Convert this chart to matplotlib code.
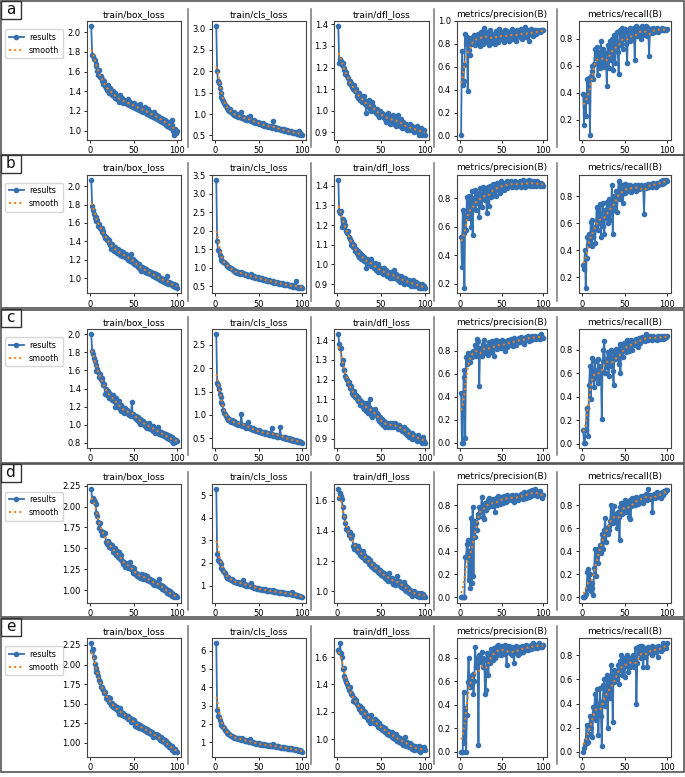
import numpy as np
import matplotlib
matplotlib.use('Agg')
import matplotlib.pyplot as plt
from matplotlib.patches import Rectangle
from matplotlib.lines import Line2D

epochs = np.arange(1, 101)
titles = ["train/box_loss", "train/cls_loss", "train/dfl_loss",
          "metrics/precision(B)", "metrics/recall(B)"]
row_labels = ["a", "b", "c", "d", "e"]

# ---------------- row a ----------------
a_box = [2.06,1.77,1.76,1.73,1.72,1.68,1.66,1.61,1.57,1.62,
         1.55,1.56,1.51,1.53,1.47,1.50,1.45,1.43,1.41,1.46,
         1.40,1.38,1.43,1.41,1.36,1.40,1.35,1.38,1.33,1.36,
         1.32,1.34,1.29,1.36,1.31,1.30,1.33,1.28,1.31,1.29,
         1.30,1.27,1.32,1.28,1.26,1.29,1.25,1.27,1.24,1.28,
         1.25,1.23,1.26,1.22,1.24,1.21,1.27,1.22,1.20,1.23,
         1.19,1.21,1.24,1.18,1.20,1.17,1.22,1.16,1.19,1.15,
         1.18,1.14,1.17,1.19,1.13,1.16,1.12,1.15,1.11,1.14,
         1.10,1.13,1.09,1.12,1.08,1.11,1.06,1.10,1.05,1.08,
         1.04,1.09,1.03,1.06,1.11,1.00,0.96,1.02,0.98,1.00]
a_cls = [3.05,2.00,1.78,1.72,1.62,1.50,1.40,1.36,1.30,1.26,
         1.22,1.18,1.15,1.16,1.10,1.08,1.12,1.05,1.02,1.00,
         0.98,1.04,0.97,0.95,0.99,0.93,0.96,0.92,0.94,1.05,
         0.90,0.92,0.88,0.91,0.87,0.89,0.86,0.93,0.85,0.95,
         0.84,0.86,0.83,0.81,0.85,0.80,0.82,0.79,0.81,0.78,
         0.77,0.80,0.76,0.74,0.78,0.73,0.75,0.72,0.74,0.71,
         0.70,0.73,0.69,0.71,0.68,0.70,0.84,0.67,0.69,0.66,
         0.68,0.65,0.67,0.64,0.66,0.63,0.65,0.62,0.64,0.61,
         0.63,0.60,0.62,0.59,0.61,0.58,0.60,0.57,0.59,0.56,
         0.58,0.55,0.57,0.54,0.56,0.53,0.61,0.52,0.54,0.52]
a_dfl = [1.39,1.22,1.24,1.23,1.21,1.22,1.19,1.20,1.17,1.18,
         1.16,1.15,1.13,1.14,1.12,1.13,1.11,1.10,1.12,1.09,
         1.10,1.07,1.08,1.06,1.08,1.05,1.07,1.04,1.06,1.05,
         1.07,1.03,0.99,1.04,1.02,1.05,1.01,1.03,1.00,1.04,
         1.02,1.00,1.01,0.99,1.01,0.98,1.00,0.97,1.00,0.98,
         0.99,0.97,0.98,0.96,0.98,0.95,0.97,0.99,0.96,0.94,
         0.97,0.95,0.96,0.98,0.94,0.97,0.93,0.96,0.98,0.94,
         0.95,0.93,0.96,0.92,0.95,0.93,0.94,0.92,0.94,0.91,
         0.93,0.91,0.94,0.92,0.93,0.91,0.92,0.90,0.92,0.91,
         0.93,0.90,0.92,0.89,0.91,0.92,0.89,0.90,0.91,0.89]
a_prec = [0.01,0.74,0.44,0.48,0.62,0.89,0.80,0.86,0.39,0.75,
          0.82,0.70,0.85,0.80,0.86,0.82,0.88,0.79,0.84,0.87,
          0.81,0.89,0.83,0.78,0.90,0.84,0.91,0.80,0.94,0.86,
          0.82,0.90,0.84,0.88,0.79,0.92,0.85,0.81,0.89,0.83,
          0.87,0.80,0.91,0.85,0.88,0.82,0.93,0.86,0.84,0.90,
          0.85,0.88,0.82,0.92,0.86,0.84,0.91,0.87,0.83,0.89,
          0.86,0.93,0.84,0.88,0.91,0.85,0.89,0.83,0.92,0.87,
          0.90,0.86,0.93,0.88,0.84,0.91,0.87,0.95,0.89,0.86,
          0.92,0.88,0.83,0.90,0.93,0.89,0.91,0.87,0.92,0.90,
          0.91,0.89,0.92,0.90,0.91,0.92,0.90,0.91,0.92,0.92]
a_rec = [0.39,0.16,0.38,0.23,0.36,0.50,0.34,0.51,0.09,0.52,
         0.56,0.60,0.50,0.61,0.72,0.66,0.74,0.53,0.70,0.62,
         0.58,0.78,0.65,0.60,0.72,0.59,0.69,0.63,0.45,0.75,
         0.58,0.70,0.78,0.64,0.80,0.57,0.76,0.83,0.62,0.78,
         0.85,0.70,0.54,0.86,0.75,0.82,0.88,0.72,0.84,0.80,
         0.87,0.76,0.62,0.85,0.80,0.88,0.78,0.84,0.86,0.79,
         0.88,0.64,0.85,0.89,0.82,0.87,0.84,0.88,0.80,0.86,
         0.89,0.83,0.87,0.85,0.89,0.82,0.86,0.88,0.67,0.85,
         0.87,0.84,0.86,0.88,0.85,0.87,0.86,0.88,0.85,0.87,
         0.86,0.87,0.86,0.88,0.86,0.87,0.86,0.87,0.86,0.87]

# ---------------- row b ----------------
b_box = [2.07,1.79,1.74,1.70,1.65,1.66,1.62,1.63,1.57,1.59,
         1.55,1.53,1.55,1.50,1.51,1.47,1.44,1.45,1.41,1.43,
         1.38,1.41,1.36,1.32,1.37,1.34,1.30,1.34,1.31,1.29,
         1.27,1.32,1.28,1.25,1.30,1.26,1.24,1.28,1.25,1.23,
         1.26,1.22,1.24,1.20,1.23,1.19,1.26,1.17,1.21,1.18,
         1.15,1.19,1.14,1.16,1.12,1.15,1.10,1.13,1.08,1.12,
         1.09,1.11,1.07,1.10,1.06,1.09,1.05,1.08,1.04,1.07,
         1.03,1.06,1.02,1.05,1.01,1.04,1.00,1.03,0.99,1.01,
         0.98,1.00,0.97,0.99,0.96,0.98,0.95,0.97,1.02,0.94,
         0.96,0.93,0.95,0.92,0.94,0.91,0.93,0.90,0.92,0.89]
b_cls = [3.37,1.72,1.48,1.45,1.35,1.28,1.22,1.18,1.15,1.16,
         1.12,1.10,1.07,1.04,1.02,1.03,1.00,0.98,0.96,0.93,
         0.95,0.91,0.88,0.90,0.86,0.88,0.85,0.87,0.84,0.89,
         0.83,0.85,0.82,0.80,0.84,0.79,0.81,0.78,0.80,0.77,
         0.82,0.76,0.78,0.74,0.77,0.73,0.75,0.72,0.74,0.71,
         0.70,0.72,0.69,0.71,0.68,0.67,0.69,0.66,0.68,0.65,
         0.64,0.66,0.63,0.65,0.62,0.61,0.63,0.60,0.62,0.59,
         0.61,0.58,0.60,0.57,0.59,0.56,0.58,0.55,0.57,0.54,
         0.56,0.53,0.55,0.52,0.54,0.51,0.53,0.50,0.52,0.49,
         0.51,0.48,0.64,0.47,0.49,0.46,0.48,0.45,0.47,0.46]
b_dfl = [1.43,1.27,1.26,1.27,1.19,1.23,1.22,1.19,1.20,1.17,
         1.16,1.17,1.14,1.13,1.12,1.10,1.11,1.09,1.10,1.07,
         1.08,1.06,1.05,1.07,1.04,1.06,1.03,1.05,1.04,1.02,
         1.04,1.02,0.98,1.03,1.01,1.02,1.00,1.03,0.99,1.01,
         1.00,0.98,1.01,0.97,0.99,0.96,1.00,0.97,0.98,0.96,
         0.97,0.95,0.98,0.96,0.95,0.97,0.94,0.96,0.95,0.93,
         0.96,0.94,0.93,0.95,0.97,0.93,0.95,0.94,0.92,0.94,
         0.93,0.91,0.94,0.92,0.93,0.90,0.92,0.93,0.91,0.92,
         0.90,0.92,0.91,0.89,0.91,0.90,0.92,0.89,0.90,0.91,
         0.89,0.90,0.88,0.90,0.89,0.88,0.90,0.88,0.89,0.88]
b_prec = [0.53,0.32,0.72,0.56,0.17,0.68,0.58,0.81,0.66,0.82,
          0.70,0.78,0.60,0.85,0.54,0.80,0.75,0.86,0.72,0.83,
          0.77,0.84,0.67,0.87,0.80,0.74,0.88,0.82,0.85,0.79,
          0.86,0.70,0.88,0.83,0.75,0.89,0.81,0.87,0.84,0.90,
          0.85,0.89,0.82,0.91,0.86,0.88,0.90,0.84,0.92,0.87,
          0.89,0.91,0.86,0.90,0.88,0.92,0.87,0.91,0.89,0.90,
          0.92,0.88,0.91,0.90,0.89,0.92,0.90,0.88,0.91,0.89,
          0.90,0.92,0.88,0.91,0.89,0.93,0.90,0.88,0.92,0.89,
          0.91,0.90,0.93,0.89,0.92,0.90,0.91,0.89,0.92,0.90,
          0.91,0.89,0.92,0.90,0.91,0.89,0.90,0.91,0.90,0.89]
b_rec = [0.29,0.26,0.40,0.12,0.34,0.50,0.44,0.52,0.45,0.61,
         0.43,0.62,0.50,0.56,0.45,0.58,0.72,0.55,0.68,0.60,
         0.74,0.50,0.62,0.75,0.58,0.52,0.70,0.64,0.76,0.60,
         0.68,0.78,0.62,0.72,0.88,0.52,0.80,0.70,0.76,0.84,
         0.68,0.82,0.91,0.78,0.86,0.80,0.88,0.75,0.84,0.89,
         0.82,0.86,0.88,0.84,0.87,0.85,0.88,0.83,0.86,0.87,
         0.85,0.88,0.84,0.87,0.86,0.88,0.85,0.87,0.86,0.88,
         0.86,0.87,0.67,0.88,0.86,0.88,0.87,0.89,0.87,0.88,
         0.89,0.87,0.88,0.90,0.88,0.89,0.87,0.90,0.89,0.88,
         0.90,0.89,0.91,0.89,0.90,0.92,0.90,0.91,0.92,0.91]

# ---------------- row c ----------------
c_box = [2.00,1.82,1.78,1.74,1.70,1.66,1.59,1.62,1.58,1.53,
         1.56,1.50,1.52,1.48,1.44,1.45,1.34,1.40,1.33,1.37,
         1.35,1.30,1.34,1.31,1.27,1.33,1.26,1.30,1.19,1.29,
         1.24,1.20,1.26,1.17,1.22,1.15,1.19,1.16,1.13,1.18,
         1.14,1.16,1.12,1.15,1.11,1.13,1.10,1.25,1.12,1.09,
         1.11,1.07,1.10,1.05,1.08,1.03,1.06,1.01,1.05,1.02,
         1.04,1.00,1.02,0.97,1.01,0.96,0.99,1.02,0.95,0.98,
         0.97,0.93,0.98,0.96,0.91,0.95,0.92,0.97,0.90,0.93,
         0.89,0.92,0.88,0.91,0.87,0.90,0.86,0.89,0.85,0.88,
         0.84,0.87,0.83,0.86,0.82,0.80,0.84,0.81,0.83,0.82]
c_cls = [2.72,1.68,1.63,1.55,1.45,1.38,1.27,1.23,1.10,1.05,
         1.02,0.98,0.95,0.93,0.90,0.92,0.88,0.86,0.89,0.84,
         0.87,0.82,0.85,0.80,0.83,0.79,0.81,0.78,0.80,1.01,
         0.77,0.79,0.76,0.74,0.78,0.73,0.75,0.85,0.72,0.74,
         0.71,0.69,0.72,0.68,0.70,0.67,0.66,0.68,0.65,0.67,
         0.64,0.66,0.63,0.62,0.64,0.61,0.63,0.60,0.62,0.59,
         0.61,0.58,0.60,0.57,0.73,0.59,0.56,0.58,0.55,0.57,
         0.54,0.56,0.53,0.55,0.75,0.52,0.54,0.51,0.53,0.50,
         0.52,0.49,0.51,0.48,0.50,0.47,0.49,0.46,0.48,0.45,
         0.47,0.44,0.46,0.43,0.45,0.42,0.44,0.43,0.42,0.41]
c_dfl = [1.43,1.38,1.36,1.36,1.28,1.30,1.25,1.25,1.22,1.21,
         1.20,1.18,1.19,1.16,1.17,1.15,1.13,1.12,1.14,1.11,
         1.12,1.10,1.11,1.09,1.10,1.07,1.09,1.08,1.06,1.08,
         1.05,1.07,1.04,1.08,1.03,1.06,1.10,1.02,1.05,1.01,
         1.04,1.03,1.05,1.02,1.03,1.00,1.02,0.99,1.01,0.98,
         1.00,0.97,0.99,0.96,0.98,0.97,0.98,0.96,0.97,0.98,
         0.96,0.98,0.97,0.96,0.97,0.98,0.96,0.97,0.95,0.96,
         0.97,0.95,0.96,0.94,0.95,0.96,0.94,0.93,0.95,0.92,
         0.94,0.91,0.93,0.92,0.90,0.93,0.91,0.92,0.90,0.91,
         0.89,0.92,0.90,0.91,0.89,0.90,0.88,0.91,0.89,0.88]
c_prec = [0.43,0.00,0.00,0.57,0.63,0.04,0.74,0.68,0.78,0.72,
          0.77,0.70,0.78,0.74,0.80,0.76,0.79,0.85,0.75,0.90,
          0.80,0.88,0.49,0.82,0.77,0.75,0.86,0.80,0.89,0.83,
          0.78,0.84,0.80,0.76,0.87,0.81,0.79,0.88,0.82,0.85,
          0.75,0.86,0.89,0.83,0.81,0.88,0.84,0.86,0.82,0.89,
          0.84,0.87,0.85,0.80,0.88,0.86,0.83,0.89,0.87,0.85,
          0.90,0.86,0.88,0.84,0.91,0.87,0.89,0.85,0.90,0.88,
          0.91,0.87,0.89,0.92,0.88,0.90,0.86,0.91,0.89,0.92,
          0.90,0.93,0.88,0.91,0.92,0.89,0.93,0.90,0.92,0.91,
          0.93,0.90,0.92,0.91,0.93,0.92,0.90,0.94,0.92,0.91]
c_rec = [0.12,0.01,0.01,0.12,0.30,0.30,0.07,0.50,0.66,0.38,
         0.62,0.73,0.55,0.48,0.70,0.58,0.63,0.52,0.72,0.56,
         0.66,0.62,0.21,0.70,0.80,0.87,0.60,0.72,0.65,0.78,
         0.58,0.75,0.66,0.80,0.74,0.62,0.50,0.78,0.72,0.81,
         0.74,0.79,0.68,0.85,0.60,0.78,0.82,0.74,0.86,0.80,
         0.84,0.78,0.88,0.82,0.79,0.86,0.83,0.88,0.80,0.85,
         0.87,0.84,0.89,0.85,0.88,0.82,0.90,0.86,0.89,0.87,
         0.91,0.88,0.90,0.87,0.93,0.89,0.91,0.88,0.90,0.92,
         0.89,0.91,0.88,0.92,0.90,0.89,0.91,0.88,0.92,0.90,
         0.91,0.89,0.92,0.90,0.91,0.89,0.92,0.90,0.91,0.92]

# ---------------- row d ----------------
d_box = [2.21,2.07,2.10,2.08,2.05,2.03,1.92,1.89,1.81,1.74,
         1.80,1.71,1.70,1.66,1.70,1.68,1.68,1.58,1.55,1.59,
         1.56,1.52,1.55,1.50,1.54,1.46,1.48,1.44,1.51,1.42,
         1.47,1.40,1.46,1.38,1.42,1.37,1.35,1.31,1.34,1.28,
         1.31,1.29,1.33,1.27,1.30,1.34,1.25,1.28,1.21,1.27,
         1.23,1.19,1.21,1.17,1.20,1.16,1.18,1.15,1.17,1.19,
         1.14,1.16,1.18,1.13,1.17,1.12,1.15,1.11,1.14,1.10,
         1.12,1.08,1.11,1.07,1.10,1.06,1.09,1.05,1.08,1.14,
         1.04,1.07,1.02,1.05,1.00,1.03,0.99,1.02,0.97,1.00,
         0.96,0.99,0.94,0.97,0.93,0.95,0.92,0.94,0.93,0.92]
d_cls = [5.28,2.40,2.15,2.10,2.05,1.95,1.80,1.72,1.65,1.60,
         1.55,1.42,1.38,1.35,1.36,1.30,1.28,1.25,1.27,1.22,
         1.20,1.18,1.15,1.17,1.12,1.14,1.10,1.12,1.08,1.10,
         1.06,1.25,1.04,1.07,1.02,1.00,1.03,0.98,1.01,0.96,
         1.10,0.94,0.92,0.95,0.90,0.88,0.91,0.86,0.89,0.85,
         0.87,0.83,0.86,0.82,0.84,0.80,0.83,0.79,0.81,0.78,
         0.76,0.79,0.75,0.77,0.74,0.76,0.82,0.72,0.75,0.71,
         0.73,0.70,0.72,0.69,0.71,0.68,0.70,0.67,0.69,0.66,
         0.68,0.64,0.67,0.63,0.65,0.62,0.64,0.61,0.70,0.59,
         0.62,0.58,0.60,0.56,0.58,0.54,0.52,0.53,0.50,0.49]
d_dfl = [1.68,1.62,1.65,1.63,1.61,1.56,1.50,1.49,1.45,1.41,
         1.42,1.40,1.37,1.39,1.36,1.35,1.37,1.30,1.28,1.31,
         1.29,1.27,1.30,1.26,1.28,1.24,1.25,1.23,1.27,1.22,
         1.24,1.21,1.23,1.20,1.22,1.18,1.21,1.17,1.19,1.16,
         1.18,1.15,1.17,1.14,1.16,1.13,1.15,1.12,1.14,1.11,
         1.13,1.10,1.12,1.09,1.11,1.08,1.10,1.07,1.12,1.09,
         1.08,1.06,1.09,1.05,1.07,1.04,1.06,1.10,1.05,1.07,
         1.04,1.06,1.03,1.05,1.02,1.06,1.01,1.04,1.00,1.03,
         1.02,0.99,1.01,0.98,1.00,0.97,0.99,1.00,0.98,0.99,
         0.97,0.99,0.96,0.98,0.97,0.99,0.96,0.98,0.97,0.96]
d_prec = [0.00,0.00,0.00,0.00,0.00,0.35,0.35,0.46,0.50,0.15,
          0.40,0.08,0.69,0.12,0.78,0.18,0.66,0.52,0.64,0.58,
          0.72,0.70,0.78,0.74,0.76,0.87,0.78,0.70,0.68,0.82,
          0.76,0.80,0.84,0.78,0.86,0.81,0.83,0.79,0.85,0.80,
          0.82,0.74,0.86,0.80,0.84,0.88,0.83,0.81,0.87,0.84,
          0.86,0.82,0.88,0.85,0.83,0.89,0.86,0.84,0.88,0.85,
          0.87,0.84,0.89,0.86,0.83,0.88,0.85,0.89,0.87,0.84,
          0.88,0.86,0.90,0.87,0.89,0.85,0.91,0.88,0.86,0.90,
          0.89,0.91,0.87,0.92,0.90,0.88,0.93,0.89,0.91,0.94,
          0.90,0.92,0.88,0.91,0.89,0.92,0.90,0.88,0.86,0.89]
d_rec = [0.00,0.00,0.01,0.03,0.07,0.22,0.24,0.10,0.20,0.05,
         0.08,0.12,0.02,0.25,0.42,0.18,0.35,0.42,0.30,0.40,
         0.45,0.38,0.55,0.50,0.42,0.58,0.69,0.48,0.60,0.55,
         0.62,0.58,0.66,0.80,0.70,0.64,0.79,0.66,0.72,0.68,
         0.60,0.74,0.70,0.50,0.78,0.82,0.72,0.80,0.76,0.84,
         0.78,0.74,0.82,0.80,0.70,0.84,0.68,0.79,0.86,0.80,
         0.84,0.80,0.87,0.82,0.85,0.81,0.86,0.83,0.88,0.84,
         0.86,0.82,0.88,0.85,0.90,0.84,0.87,0.94,0.86,0.89,
         0.85,0.88,0.74,0.87,0.90,0.86,0.88,0.91,0.87,0.89,
         0.90,0.88,0.86,0.91,0.89,0.90,0.92,0.91,0.93,0.93]

# ---------------- row e ----------------
e_box = [2.27,2.17,2.20,2.10,2.01,1.95,1.91,1.90,1.85,1.80,
         1.78,1.72,1.70,1.71,1.67,1.64,1.65,1.58,1.56,1.59,
         1.54,1.52,1.57,1.49,1.51,1.46,1.48,1.44,1.47,1.43,
         1.46,1.41,1.37,1.44,1.39,1.40,1.36,1.38,1.34,1.36,
         1.33,1.35,1.31,1.34,1.30,1.32,1.27,1.31,1.28,1.29,
         1.26,1.22,1.25,1.21,1.24,1.19,1.23,1.20,1.22,1.18,
         1.20,1.17,1.19,1.15,1.18,1.14,1.16,1.13,1.15,1.12,
         1.14,1.11,1.08,1.12,1.09,1.11,1.07,1.10,1.06,1.08,
         1.04,1.07,1.03,1.05,1.01,1.04,0.99,1.02,0.97,1.00,
         0.95,0.98,0.93,0.96,0.91,0.94,0.89,0.92,0.90,0.89]
e_cls = [6.40,2.75,2.45,2.40,2.20,2.05,1.95,1.90,1.80,1.75,
         1.68,1.60,1.55,1.50,1.45,1.42,1.38,1.35,1.32,1.30,
         1.28,1.25,1.22,1.24,1.20,1.18,1.21,1.15,1.17,1.13,
         1.25,1.10,1.12,1.08,1.06,1.09,1.04,1.07,1.02,1.15,
         1.00,0.98,1.01,0.96,0.94,0.97,0.92,0.95,0.90,0.93,
         0.88,0.91,0.86,0.89,0.85,0.87,0.83,0.86,0.82,0.84,
         0.81,0.83,0.79,0.82,0.78,0.80,0.90,0.77,0.79,0.75,
         0.77,0.73,0.76,0.72,0.74,0.70,0.73,0.69,0.71,0.67,
         0.70,0.66,0.68,0.64,0.67,0.63,0.65,0.62,0.64,0.60,
         0.63,0.58,0.61,0.56,0.59,0.54,0.52,0.55,0.50,0.48]
e_dfl = [1.65,1.64,1.70,1.63,1.60,1.51,1.52,1.46,1.44,1.42,
         1.40,1.38,1.36,1.38,1.33,1.34,1.32,1.28,1.30,1.27,
         1.29,1.26,1.24,1.25,1.22,1.24,1.20,1.23,1.19,1.21,
         1.17,1.20,1.16,1.18,1.14,1.17,1.12,1.15,1.18,1.13,
         1.14,1.12,1.15,1.11,1.13,1.10,1.09,1.12,1.08,1.10,
         1.07,1.09,1.06,1.08,1.05,1.07,1.04,1.06,1.03,1.05,
         1.04,1.02,1.05,1.01,1.03,1.00,1.04,0.99,1.02,1.00,
         0.98,1.01,0.97,1.00,0.96,0.99,1.02,0.97,0.95,0.98,
         0.96,0.94,0.97,0.95,0.93,0.96,0.94,0.92,0.95,0.93,
         0.94,0.92,0.95,0.93,0.91,0.94,0.92,0.93,0.94,0.92]
e_prec = [0.00,0.00,0.00,0.51,0.07,0.37,0.00,0.31,0.59,0.80,
          0.60,0.55,0.64,0.58,0.66,0.49,0.60,0.89,0.72,0.80,
          0.78,0.06,0.82,0.76,0.80,0.85,0.72,0.80,0.78,0.49,
          0.52,0.84,0.80,0.65,0.83,0.75,0.87,0.80,0.85,0.78,
          0.88,0.80,0.84,0.90,0.82,0.91,0.85,0.88,0.82,0.90,
          0.86,0.89,0.83,0.91,0.87,0.74,0.88,0.85,0.90,0.84,
          0.87,0.82,0.89,0.86,0.75,0.88,0.84,0.90,0.86,0.82,
          0.89,0.84,0.88,0.87,0.90,0.85,0.89,0.86,0.91,0.87,
          0.89,0.86,0.90,0.88,0.91,0.87,0.89,0.92,0.88,0.90,
          0.89,0.91,0.88,0.90,0.92,0.89,0.91,0.90,0.89,0.91]
e_rec = [0.00,0.03,0.06,0.10,0.22,0.07,0.08,0.15,0.30,0.20,
         0.29,0.12,0.37,0.33,0.48,0.26,0.52,0.40,0.14,0.35,
         0.53,0.30,0.05,0.42,0.55,0.60,0.38,0.47,0.64,0.20,
         0.55,0.62,0.45,0.72,0.60,0.25,0.68,0.58,0.62,0.66,
         0.60,0.72,0.56,0.75,0.68,0.80,0.64,0.76,0.70,0.62,
         0.78,0.72,0.80,0.66,0.76,0.70,0.78,0.72,0.75,0.80,
         0.70,0.76,0.86,0.40,0.74,0.87,0.82,0.88,0.78,0.85,
         0.88,0.70,0.84,0.79,0.86,0.82,0.70,0.87,0.83,0.86,
         0.84,0.88,0.80,0.86,0.87,0.83,0.86,0.84,0.79,0.88,
         0.85,0.87,0.84,0.86,0.90,0.85,0.87,0.88,0.86,0.90]

rows_data = [
    [a_box, a_cls, a_dfl, a_prec, a_rec],
    [b_box, b_cls, b_dfl, b_prec, b_rec],
    [c_box, c_cls, c_dfl, c_prec, c_rec],
    [d_box, d_cls, d_dfl, d_prec, d_rec],
    [e_box, e_cls, e_dfl, e_prec, e_rec],
]

# y tick labels
ticks_box = [[1.0, 1.2, 1.4, 1.6, 1.8, 2.0], [1.0, 1.2, 1.4, 1.6, 1.8, 2.0],
             [0.8, 1.0, 1.2, 1.4, 1.6, 1.8, 2.0],
             [1.00, 1.25, 1.50, 1.75, 2.00, 2.25], [1.00, 1.25, 1.50, 1.75, 2.00, 2.25]]
ticks_cls = [[0.5, 1.0, 1.5, 2.0, 2.5, 3.0], [0.5, 1.0, 1.5, 2.0, 2.5, 3.0, 3.5],
             [0.5, 1.0, 1.5, 2.0, 2.5], [1, 2, 3, 4, 5], [1, 2, 3, 4, 5, 6]]
ticks_dfl = [[0.9, 1.0, 1.1, 1.2, 1.3, 1.4], [0.9, 1.0, 1.1, 1.2, 1.3, 1.4],
             [0.9, 1.0, 1.1, 1.2, 1.3, 1.4], [1.0, 1.2, 1.4, 1.6], [1.0, 1.2, 1.4, 1.6]]
ticks_prec = [[0.0, 0.2, 0.4, 0.6, 0.8, 1.0], [0.2, 0.4, 0.6, 0.8],
              [0.0, 0.2, 0.4, 0.6, 0.8], [0.0, 0.2, 0.4, 0.6, 0.8], [0.0, 0.2, 0.4, 0.6, 0.8]]
ticks_rec = [[0.2, 0.4, 0.6, 0.8], [0.2, 0.4, 0.6, 0.8], [0.0, 0.2, 0.4, 0.6, 0.8],
             [0.0, 0.2, 0.4, 0.6, 0.8], [0.0, 0.2, 0.4, 0.6, 0.8]]
row_ticks = [list(t) for t in zip(ticks_box, ticks_cls, ticks_dfl, ticks_prec, ticks_rec)]


def smooth(y, sigma=3):
    y = np.asarray(y, float)
    r = int(4 * sigma + 0.5)
    k = np.exp(-0.5 * (np.arange(-r, r + 1) / sigma) ** 2)
    k /= k.sum()
    yp = np.pad(y, r, mode='symmetric')
    return np.convolve(yp, k, mode='valid')


W, H = 685, 777
fig = plt.figure(figsize=(W / 100, H / 100), dpi=100)
fig.patch.set_facecolor('white')


def fx(px):
    return px / W


def fy(py):
    return 1 - py / H


BLUE = '#3570b0'
ORANGE = '#ff7f0e'
col_left = [87, 212, 334, 457, 579]
col_right = [181, 306, 429, 547, 671]
row_tops = [0, 153.5, 308, 462.5, 617]
row_h = 154.5
sep_x = [188, 311, 434, 557]

for r, top in enumerate(row_tops):
    # row frame
    fig.add_artist(Rectangle((fx(1), fy(top + row_h)), fx(683), row_h / H - 1.5 / H,
                             transform=fig.transFigure, fill=False,
                             edgecolor='#555555', lw=1.2))
    # letter box
    fig.add_artist(Rectangle((fx(1), fy(top + 19)), fx(19.5), 18 / H,
                             transform=fig.transFigure, fill=False,
                             edgecolor='#333333', lw=1.0))
    fig.text(fx(10.5), fy(top + 9.5), row_labels[r], ha='center', va='center',
             fontsize=11, color='#111111')
    # separators
    for sx in sep_x:
        fig.add_artist(Line2D([fx(sx), fx(sx)], [fy(top + 9), fy(top + 147)],
                              transform=fig.transFigure, color='#777777', lw=1.1))
    for c in range(5):
        ax = fig.add_axes([fx(col_left[c]), fy(top + 140),
                           fx(col_right[c] - col_left[c]), 119 / H])
        y = rows_data[r][c]
        ax.plot(epochs, y, marker='.', color=BLUE, lw=1.3, ms=6, label='results')
        ax.plot(epochs, smooth(y), ':', color=ORANGE, lw=1.4, label='smooth')
        ax.set_title(titles[c], fontsize=6.5, pad=3)
        ax.set_xticks([0, 50, 100])
        ax.set_yticks(row_ticks[r][c])
        ax.tick_params(labelsize=6, length=2.5, width=0.6, pad=2)
        for s in ax.spines.values():
            s.set_linewidth(0.8)
            s.set_color('#444444')
        if c == 0:
            ax.legend(loc='upper left', bbox_to_anchor=(fx(5), fy(top + 29)),
                      bbox_transform=fig.transFigure, fontsize=5.8,
                      handlelength=1.9, handletextpad=0.6, borderpad=0.45,
                      labelspacing=0.5, borderaxespad=0)

fig.savefig('out.png', dpi=100)
